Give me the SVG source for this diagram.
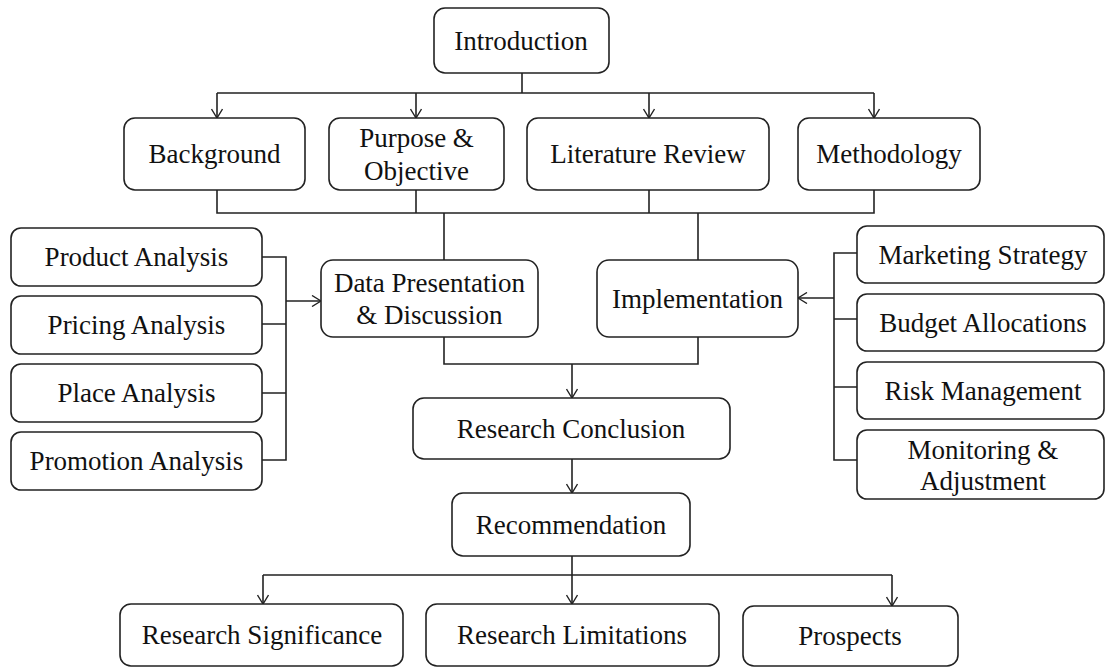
<svg xmlns="http://www.w3.org/2000/svg" width="1105" height="668" viewBox="0 0 1105 668">
<defs>
<marker id="arr" viewBox="0 0 10 12" refX="10" refY="6" markerWidth="10" markerHeight="12" markerUnits="userSpaceOnUse" orient="auto">
<path d="M1,0.5 L10,6 L1,11.5" fill="none" stroke="#222" stroke-width="1.4"/>
</marker>
<style>
.b{fill:#fff;stroke:#222;stroke-width:1.6}
.t{font-family:"Liberation Serif","Times New Roman",serif;font-size:27px;fill:#111;text-anchor:middle}
.c{fill:none;stroke:#222;stroke-width:1.6}
.a{fill:none;stroke:#222;stroke-width:1.6;marker-end:url(#arr)}
</style>
</defs>
<rect width="1105" height="668" fill="#fff"/>
<g id="connectors">
<path class="c" d="M522,73 V93 M217,93 H874"/>
<path class="a" d="M217,93 V118"/>
<path class="a" d="M416,93 V118"/>
<path class="a" d="M649,93 V118"/>
<path class="a" d="M874,93 V118"/>
<path class="c" d="M217,190 V213 H874 V190 M416,190 V213 M649,190 V213"/>
<path class="c" d="M444,213 V260 M698,213 V260"/>
<path class="c" d="M262,257 H286 V460 H262 M262,324 H286 M262,393 H286"/>
<path class="a" d="M286,301 H321"/>
<path class="c" d="M857,253 H834 V460 H857 M857,319 H834 M857,387 H834"/>
<path class="a" d="M834,298 H798"/>
<path class="c" d="M444,337 V364 H698 V337"/>
<path class="a" d="M572,364 V398"/>
<path class="a" d="M572,459 V493"/>
<path class="c" d="M572,556 V575 M263,575 H892"/>
<path class="a" d="M263,575 V604"/>
<path class="a" d="M572,575 V604"/>
<path class="a" d="M892,575 V606"/>
</g>
<g id="introduction"><rect class="b" x="434" y="8" width="175" height="65" rx="11"/><text class="t" x="521" y="50">Introduction</text></g>
<g id="background"><rect class="b" x="124" y="118" width="181" height="72" rx="11"/><text class="t" x="214.5" y="163">Background</text></g>
<g id="purpose"><rect class="b" x="329" y="118" width="175" height="72" rx="11"/><text class="t" x="416.5" y="147">Purpose &amp;</text><text class="t" x="416.5" y="180">Objective</text></g>
<g id="literature"><rect class="b" x="527" y="118" width="242" height="72" rx="11"/><text class="t" x="648" y="163">Literature Review</text></g>
<g id="methodology"><rect class="b" x="798" y="118" width="182" height="72" rx="11"/><text class="t" x="889" y="163">Methodology</text></g>
<g id="product"><rect class="b" x="11" y="228" width="251" height="58" rx="10"/><text class="t" x="136.5" y="266">Product Analysis</text></g>
<g id="pricing"><rect class="b" x="11" y="296" width="251" height="58" rx="10"/><text class="t" x="136.5" y="334">Pricing Analysis</text></g>
<g id="place"><rect class="b" x="11" y="364" width="251" height="58" rx="10"/><text class="t" x="136.5" y="402">Place Analysis</text></g>
<g id="promotion"><rect class="b" x="11" y="432" width="251" height="58" rx="10"/><text class="t" x="136.5" y="470">Promotion Analysis</text></g>
<g id="data"><rect class="b" x="321" y="260" width="217" height="77" rx="12"/><text class="t" x="429.5" y="292">Data Presentation</text><text class="t" x="429.5" y="324">&amp; Discussion</text></g>
<g id="implementation"><rect class="b" x="597" y="260" width="201" height="77" rx="12"/><text class="t" x="697.5" y="308">Implementation</text></g>
<g id="marketing"><rect class="b" x="857" y="226" width="247" height="57" rx="10"/><text class="t" x="983" y="264">Marketing Strategy</text></g>
<g id="budget"><rect class="b" x="857" y="294" width="247" height="57" rx="10"/><text class="t" x="983" y="332">Budget Allocations</text></g>
<g id="risk"><rect class="b" x="857" y="362" width="247" height="57" rx="10"/><text class="t" x="983" y="400">Risk Management</text></g>
<g id="monitoring"><rect class="b" x="857" y="430" width="247" height="69" rx="10"/><text class="t" x="983" y="459">Monitoring &amp;</text><text class="t" x="983" y="490">Adjustment</text></g>
<g id="conclusion"><rect class="b" x="413" y="398" width="317" height="61" rx="11"/><text class="t" x="571" y="438">Research Conclusion</text></g>
<g id="recommendation"><rect class="b" x="452" y="493" width="238" height="63" rx="11"/><text class="t" x="571" y="534">Recommendation</text></g>
<g id="significance"><rect class="b" x="120" y="604" width="283" height="62" rx="11"/><text class="t" x="262" y="644">Research Significance</text></g>
<g id="limitations"><rect class="b" x="426" y="604" width="293" height="62" rx="11"/><text class="t" x="572" y="644">Research Limitations</text></g>
<g id="prospects"><rect class="b" x="743" y="606" width="215" height="60" rx="11"/><text class="t" x="850" y="645">Prospects</text></g>
</svg>
